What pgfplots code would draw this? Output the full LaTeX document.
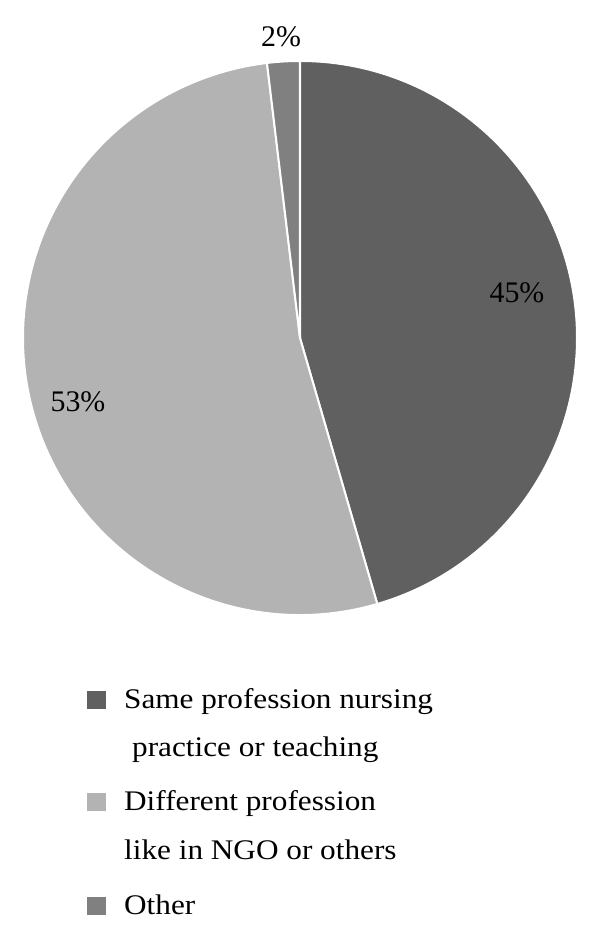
\documentclass[border=0pt]{standalone}
\usepackage{fontspec}
\setmainfont{Liberation Serif}
\newfontfamily\legfont[FakeStretch=1.1]{Liberation Serif}
\usepackage{pgfplots}
\usepackage{pgfplotstable}
\pgfplotsset{compat=1.18}
\definecolor{cSame}{HTML}{606060}
\definecolor{cDiff}{HTML}{B3B3B3}
\definecolor{cOther}{HTML}{808080}

% share = slice size as drawn, pct = printed label
\pgfplotstableread{
label share pct
Same 45.5 45
Different 52.6 53
Other 1.9 2
}\piedata

\pgfplotstablegetelem{0}{share}\of\piedata \edef\vA{\pgfplotsretval}
\pgfplotstablegetelem{1}{share}\of\piedata \edef\vB{\pgfplotsretval}
\pgfplotstablegetelem{2}{share}\of\piedata \edef\vC{\pgfplotsretval}
\pgfplotstablegetelem{0}{pct}\of\piedata \edef\pA{\pgfplotsretval}
\pgfplotstablegetelem{1}{pct}\of\piedata \edef\pB{\pgfplotsretval}
\pgfplotstablegetelem{2}{pct}\of\piedata \edef\pC{\pgfplotsretval}
\pgfmathsetmacro{\tot}{\vA+\vB+\vC}
\pgfmathsetmacro{\sA}{90}
\pgfmathsetmacro{\eA}{\sA-\vA/\tot*360}
\pgfmathsetmacro{\eB}{\eA-\vB/\tot*360}
\pgfmathsetmacro{\eC}{\eB-\vC/\tot*360}

\begin{document}
\begin{tikzpicture}
\begin{axis}[
  width=600bp, height=948bp, scale only axis,
  xmin=0, xmax=600, ymin=0, ymax=948,
  hide axis, clip=false,
]
\path (axis cs:0,0) rectangle (axis cs:600,948);
\begin{scope}[shift={(axis cs:300,610)}]
  \filldraw[fill=cSame, draw=white, line width=2bp, line join=round]
    (0,0) -- (\sA:277bp) arc[start angle=\sA, end angle=\eA, radius=277bp] -- cycle;
  \filldraw[fill=cDiff, draw=white, line width=2bp, line join=round]
    (0,0) -- (\eA:277bp) arc[start angle=\eA, end angle=\eB, radius=277bp] -- cycle;
  \filldraw[fill=cOther, draw=white, line width=2bp, line join=round]
    (0,0) -- (\eB:277bp) arc[start angle=\eB, end angle=\eC, radius=277bp] -- cycle;
\end{scope}
\node[anchor=base, font=\fontsize{30}{36}\selectfont] at (axis cs:517,645) {\pA\%};
\node[anchor=base, font=\fontsize{30}{36}\selectfont] at (axis cs:78,536) {\pB\%};
\node[anchor=base, font=\fontsize{30}{36}\selectfont] at (axis cs:281,901) {\pC\%};
% legend
\fill[cSame] (axis cs:87,239) rectangle (axis cs:106,257);
\fill[cDiff] (axis cs:87,137) rectangle (axis cs:106,155);
\fill[cOther] (axis cs:87,33) rectangle (axis cs:106,51);
\node[anchor=base west, inner sep=0pt, font=\legfont\fontsize{28.5}{34}\selectfont] at (axis cs:124,239) {Same profession nursing};
\node[anchor=base west, inner sep=0pt, font=\legfont\fontsize{28.5}{34}\selectfont] at (axis cs:132,191) {practice or teaching};
\node[anchor=base west, inner sep=0pt, font=\legfont\fontsize{28.5}{34}\selectfont] at (axis cs:124,137) {Different profession};
\node[anchor=base west, inner sep=0pt, font=\legfont\fontsize{28.5}{34}\selectfont] at (axis cs:124,88) {like in NGO or others};
\node[anchor=base west, inner sep=0pt, font=\legfont\fontsize{28.5}{34}\selectfont] at (axis cs:124,33) {Other};
\end{axis}
\end{tikzpicture}
\end{document}
